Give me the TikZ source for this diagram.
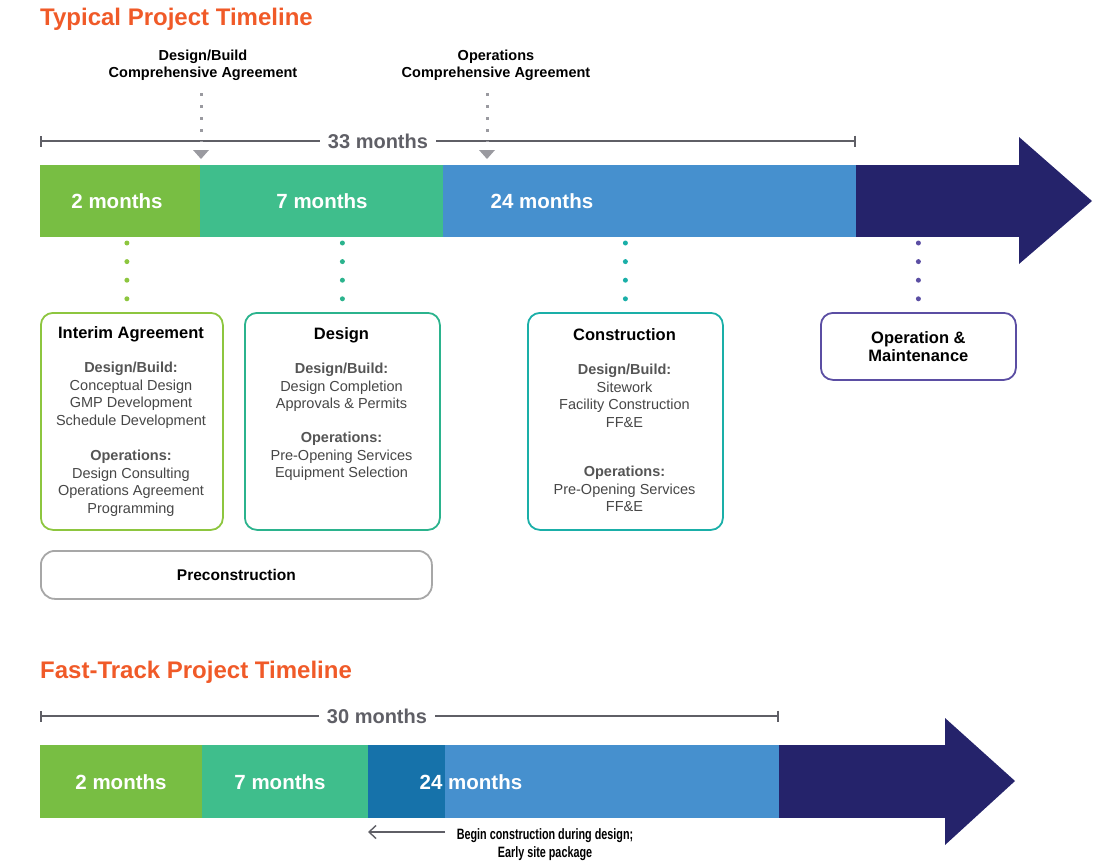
\documentclass[tikz,border=0pt]{standalone}
\usepackage{fontspec}
\setmainfont{Liberation Sans}
\newfontfamily\narrowfont[FakeStretch=0.72]{Liberation Sans}
\usetikzlibrary{arrows.meta}
\definecolor{corange}{HTML}{F05A28}
\definecolor{cgreen}{HTML}{78BE43}
\definecolor{cteal}{HTML}{3FBE8C}
\definecolor{cblue}{HTML}{4690CE}
\definecolor{cdkblue}{HTML}{1672AA}
\definecolor{cnavy}{HTML}{25236B}
\definecolor{cdim}{HTML}{5F5F66}
\definecolor{cmark}{HTML}{9A9AA0}
\definecolor{bgreen}{HTML}{8DC63F}
\definecolor{bteal}{HTML}{2BB38D}
\definecolor{bcyan}{HTML}{1AAFA8}
\definecolor{bpurple}{HTML}{5B4EA3}
\definecolor{bgrey}{HTML}{A7A7A7}
\definecolor{cbody}{HTML}{474747}
\definecolor{csub}{HTML}{555555}
\begin{document}
\begin{tikzpicture}[x=1pt,y=-1pt,
  title/.style={font=\fontsize{24}{28}\selectfont\bfseries, text=corange, anchor=west, inner sep=0},
  seg/.style={inner sep=0, outer sep=0, minimum height=72pt, anchor=north west},
  mlabel/.style={font=\fontsize{20.5}{24}\selectfont\bfseries, text=white, inner sep=0},
  dimtext/.style={font=\fontsize{20}{24}\selectfont\bfseries, text=cdim, inner xsep=8pt, inner ysep=0},
  dimline/.style={draw=cdim, line width=1.6pt},
  agree/.style={font=\fontsize{14.5}{17}\selectfont\bfseries, align=center, inner sep=0},
  markdots/.style={draw=cmark, line width=3pt, dash pattern=on 2.5pt off 9.5pt},
  phasedots/.style={draw=#1, line width=5pt, line cap=round, dash pattern=on 0pt off 18.6pt},
  phase/.style={draw=#1, line width=1.8pt, rounded corners=12pt, anchor=north west, inner sep=0, fill=white},
  ttl/.style={font=\fontsize{16.5}{19}\selectfont\bfseries, inner sep=0, anchor=base},
  body/.style={font=\fontsize{14.5}{17.5}\selectfont, text=cbody, align=center, inner sep=0, anchor=north},
  sub/.style={font=\bfseries, text=csub}
]
\useasboundingbox (0,0) rectangle (1116,862);

% ---------------- Typical timeline ----------------
\node[title] (tt1) at (40,19) {Typical Project Timeline};

% agreement labels
\node[agree] (ag1) at (203,65) {Design/Build\\Comprehensive Agreement};
\node[agree] (ag2) at (496,65) {Operations\\Comprehensive Agreement};

% 33 months dimension line
\node[dimtext] (d33) at (378,141) {33 months};
\coordinate (d33a) at (40,141);
\coordinate (d33b) at (856,141);
\draw[dimline, {Bar[width=11pt,line width=1.6pt]}-] (d33a) -- (d33.west);
\draw[dimline, -{Bar[width=11pt,line width=1.6pt]}] (d33.east) -- (d33b);

% agreement markers
\coordinate (m1) at (201,150);
\coordinate (m2) at (487,150);
\draw[markdots] (ag1.south -| m1) ++(0,13) -- ([yshift=8pt]m1);
\draw[markdots] (ag2.south -| m2) ++(0,13) -- ([yshift=8pt]m2);
\fill[cmark] ([xshift=-8pt]m1) -- ([xshift=8pt]m1) -- ([yshift=-9pt]m1) -- cycle;
\fill[cmark] ([xshift=-8pt]m2) -- ([xshift=8pt]m2) -- ([yshift=-9pt]m2) -- cycle;

% bar
\node[seg, fill=cgreen, minimum width=160pt] (t1) at (40,165) {};
\node[seg, fill=cteal, minimum width=243pt] (t2) at (200,165) {};
\node[seg, fill=cblue, minimum width=413pt] (t3) at (443,165) {};
\node[seg, fill=cnavy, minimum width=163.5pt] (t4) at (856,165) {};
\fill[cnavy] ([xshift=-0.5pt]t4.north east) -- ([xshift=-0.5pt,yshift=28pt]t4.north east)
  -- (1092,201) -- ([xshift=-0.5pt,yshift=-27pt]t4.south east) -- ([xshift=-0.5pt]t4.south east) -- cycle;
\node[mlabel] (l1) at (117,201) {2 months};
\node[mlabel] (l2) at (322,201) {7 months};
\node[mlabel] (l3) at (542,201) {24 months};

% phase boxes
\node[phase=bgreen, minimum width=182pt, minimum height=217pt] (ia) at (40,312) {};
\node[phase=bteal, minimum width=195pt, minimum height=217pt] (de) at (244,312) {};
\node[phase=bcyan, minimum width=195pt, minimum height=217pt] (co) at (527,312) {};
\node[phase=bpurple, minimum width=195pt, minimum height=67pt] (om) at (820,312) {};
\node[phase=bgrey, minimum width=391pt, minimum height=48pt, rounded corners=14pt,
      font=\fontsize{15.5}{18}\selectfont\bfseries] (pc) at (40,550) {Preconstruction};

% dotted connectors
\draw[phasedots=bgreen] ([xshift=-5pt,yshift=-6pt]t1.south -| ia.north) -- ([xshift=-5pt,yshift=12.5pt]ia.north);
\draw[phasedots=bteal] ([yshift=-6pt]t2.south -| de.north) -- ([yshift=12.5pt]de.north);
\draw[phasedots=bcyan] ([yshift=-6pt]t3.south -| co.north) -- ([yshift=12.5pt]co.north);
\draw[phasedots=bpurple] ([yshift=-6pt]t4.south -| om.north) -- ([yshift=12.5pt]om.north);

% box contents
\node[ttl] (iat) at (131,338) {Interim Agreement};
\node[body] (iab) at (131,362) {{\bfseries\color{csub}Design/Build:}\\Conceptual Design\\GMP Development\\Schedule Development\\[18pt]
  {\bfseries\color{csub}Operations:}\\Design Consulting\\Operations Agreement\\Programming};

\node[ttl] (det) at (341.5,339) {Design};
\node[body] (deb) at (341.5,363) {{\bfseries\color{csub}Design/Build:}\\Design Completion\\Approvals \& Permits\\[16.5pt]
  {\bfseries\color{csub}Operations:}\\Pre-Opening Services\\Equipment Selection};

\node[ttl] (cot) at (624.5,340) {Construction};
\node[body] (cob) at (624.5,364) {{\bfseries\color{csub}Design/Build:}\\Sitework\\Facility Construction\\FF\&E\\[32pt]
  {\bfseries\color{csub}Operations:}\\Pre-Opening Services\\FF\&E};

\node[font=\fontsize{16.5}{18}\selectfont\bfseries, align=center, inner sep=0] (omt) at (om.center) {Operation \&\\Maintenance};

% ---------------- Fast-track timeline ----------------
\node[title] (tt2) at (40,672) {Fast-Track Project Timeline};

\node[dimtext] (d30) at (377,716) {30 months};
\coordinate (d30a) at (40,716);
\coordinate (d30b) at (779,716);
\draw[dimline, {Bar[width=11pt,line width=1.6pt]}-] (d30a) -- (d30.west);
\draw[dimline, -{Bar[width=11pt,line width=1.6pt]}] (d30.east) -- (d30b);

\node[seg, fill=cgreen, minimum width=162pt, minimum height=73pt] (b1) at (40,745) {};
\node[seg, fill=cteal, minimum width=166pt, minimum height=73pt] (b2) at (202,745) {};
\node[seg, fill=cdkblue, minimum width=77pt, minimum height=73pt] (b3) at (368,745) {};
\node[seg, fill=cblue, minimum width=334pt, minimum height=73pt] (b4) at (445,745) {};
\node[seg, fill=cnavy, minimum width=166.5pt, minimum height=73pt] (b5) at (779,745) {};
\fill[cnavy] ([xshift=-0.5pt]b5.north east) -- ([xshift=-0.5pt,yshift=27pt]b5.north east)
  -- (1015,781) -- ([xshift=-0.5pt,yshift=-27pt]b5.south east) -- ([xshift=-0.5pt]b5.south east) -- cycle;
\node[mlabel] (k1) at (121,782) {2 months};
\node[mlabel] (k2) at (280,782) {7 months};
\node[mlabel] (k3) at (471,782) {24 months};

\draw[draw=cdim, line width=1.4pt, -{Straight Barb[length=7pt,width=13pt,line width=1.4pt]}]
  ([yshift=-14pt]b3.south east) -- ([yshift=-14pt]b3.south west);
\node[font=\fontsize{15}{18}\selectfont\narrowfont\bfseries, align=center, inner sep=0, anchor=north] (ann)
  at (545,828) {Begin construction during design;\\Early site package};
\end{tikzpicture}
\end{document}
